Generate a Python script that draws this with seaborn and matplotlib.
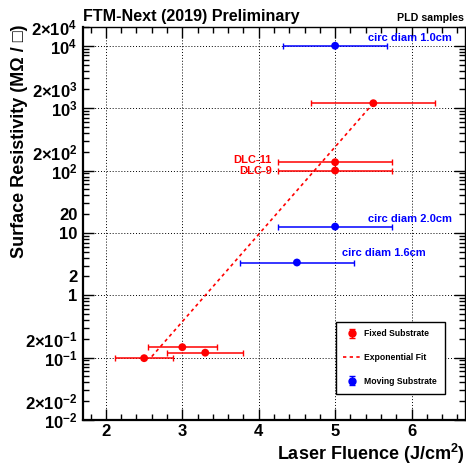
import numpy as np
import pandas as pd
import matplotlib
matplotlib.use("Agg")
import matplotlib.pyplot as plt
import seaborn as sns

# ---- data ----
fixed_x = [2.5, 3.0, 3.3, 5.0, 5.0, 5.5]
fixed_y = [0.098, 0.147, 0.12, 100, 136, 1200]
fixed_xerr = [0.375, 0.45, 0.495, 0.75, 0.75, 0.81]

moving_x = [5.0, 5.0, 4.5]
moving_y = [10000, 12.6, 3.35]
moving_xerr = [0.68, 0.75, 0.75]

fit_x = [2.6, 5.5]
fit_y = [0.104, 1200]

x_major = [2, 3, 4, 5, 6]
y_major = [1e-2, 1e-1, 1, 10, 1e2, 1e3, 1e4]
y_major_labels = [r"$10^{-2}$", r"$10^{-1}$", "1", "10", r"$10^{2}$", r"$10^{3}$", r"$10^{4}$"]
y_two = [2e-2, 2e-1, 2, 20, 2e2, 2e3, 2e4]
y_two_labels = [r"$2{\times}10^{-2}$", r"$2{\times}10^{-1}$", "2", "20",
                r"$2{\times}10^{2}$", r"$2{\times}10^{3}$", r"$2{\times}10^{4}$"]

sns.set_theme(style="ticks")
plt.rcParams["font.family"] = ["Liberation Sans", "DejaVu Sans"]
plt.rcParams["font.weight"] = "bold"
plt.rcParams["axes.labelweight"] = "bold"
plt.rcParams["text.color"] = "black"
plt.rcParams["axes.labelcolor"] = "black"
plt.rcParams["xtick.color"] = "black"
plt.rcParams["ytick.color"] = "black"
plt.rcParams["mathtext.fontset"] = "custom"
plt.rcParams["mathtext.rm"] = "Liberation Sans:bold"
plt.rcParams["mathtext.it"] = "Liberation Sans:bold"
plt.rcParams["mathtext.bf"] = "Liberation Sans:bold"

RED = "#ff0000"
BLUE = "#0000ff"

fig = plt.figure(figsize=(4.66, 4.65), dpi=100)
AX_W, AX_H = 382, 393
ax = fig.add_axes([83 / 466, 45 / 465, AX_W / 466, AX_H / 465])

fixed_df = pd.DataFrame({"x": fixed_x, "y": fixed_y, "xerr": fixed_xerr})
moving_df = pd.DataFrame({"x": moving_x, "y": moving_y, "xerr": moving_xerr})
fit_df = pd.DataFrame({"x": fit_x, "y": fit_y})

ax.set_yscale("log")

sns.lineplot(data=fit_df, x="x", y="y", ax=ax, color=RED, linestyle=(0, (2, 2)),
             linewidth=1.2, zorder=3)

ax.errorbar(fixed_df["x"], fixed_df["y"], xerr=fixed_df["xerr"], fmt="none",
            ecolor=RED, elinewidth=1.1, capsize=2.5, capthick=1.0, zorder=4)
ax.errorbar(moving_df["x"], moving_df["y"], xerr=moving_df["xerr"], fmt="none",
            ecolor=BLUE, elinewidth=1.1, capsize=2.5, capthick=1.0, zorder=4)
sns.scatterplot(data=fixed_df, x="x", y="y", ax=ax, color=RED, s=32,
                edgecolor="none", zorder=5)
sns.scatterplot(data=moving_df, x="x", y="y", ax=ax, color=BLUE, s=32,
                edgecolor="none", zorder=5)

ax.set_xlim(1.7, 6.7)
ax.set_ylim(0.01, 2e4)

ax.set_xticks(x_major)
ax.set_xticklabels([str(v) for v in x_major])
ax.set_xticks(np.arange(1.8, 6.61, 0.2), minor=True)

ax.set_yticks(y_major)
ax.set_yticklabels(y_major_labels)
minor_y = []
minor_lab = []
for d in [1e-2, 1e-1, 1, 10, 1e2, 1e3]:
    for m in range(2, 10):
        minor_y.append(m * d)
        minor_lab.append("")
minor_y.append(2e4)
minor_lab.append("")
for v, l in zip(y_two, y_two_labels):
    for i, mv in enumerate(minor_y):
        if abs(mv - v) / v < 1e-6:
            minor_lab[i] = l
ax.set_yticks(minor_y, minor=True)
ax.set_yticklabels(minor_lab, minor=True)

ax.tick_params(axis="both", which="both", direction="in", top=True, right=True,
               colors="black", labelcolor="black", labelsize=12, width=1, pad=4)
ax.tick_params(axis="x", which="both", pad=3)
ax.tick_params(axis="both", which="major", length=8)
ax.tick_params(axis="both", which="minor", length=4.5)
for lab in ax.get_xticklabels() + ax.get_yticklabels() + ax.get_yticklabels(minor=True):
    lab.set_fontweight("bold")

ax.grid(True, which="major", linestyle=(0, (1, 2)), color="black", linewidth=0.7)
ax.set_axisbelow(True)

for s in ["left", "bottom"]:
    ax.spines[s].set_linewidth(1.6)
for s in ["top", "right"]:
    ax.spines[s].set_linewidth(1.0)
for s in ax.spines.values():
    s.set_color("black")

ax.set_xlabel(r"Laser Fluence (J/cm$^{2}$)", fontsize=13, fontweight="bold", color="black")
ax.xaxis.set_label_coords(1.0, -(442 - 420) / AX_H)
ax.xaxis.label.set_horizontalalignment("right")
ax.xaxis.label.set_verticalalignment("top")

ax.set_ylabel("Surface Resistivity (M\u03a9 / \u25a1)", fontsize=13, fontweight="bold", color="black")
ax.yaxis.set_label_coords(-(83 - 11) / AX_W, 1.0 + 2 / AX_H)
ax.yaxis.label.set_horizontalalignment("right")
ax.yaxis.label.set_verticalalignment("top")

# annotations
ax.text(5.425, 13400, "circ diam 1.0cm", color=BLUE, fontsize=8, fontweight="bold", va="center", ha="left")
ax.text(5.425, 16.5, "circ diam 2.0cm", color=BLUE, fontsize=8, fontweight="bold", va="center", ha="left")
ax.text(5.093, 4.7, "circ diam 1.6cm", color=BLUE, fontsize=8, fontweight="bold", va="center", ha="left")
ax.text(4.17, 148, "DLC-11", color=RED, fontsize=8, fontweight="bold", va="center", ha="right")
ax.text(4.17, 97, "DLC-9", color=RED, fontsize=8, fontweight="bold", va="center", ha="right")

fig.text(83 / 466, 1 - 16.5 / 465, "FTM-Next (2019) Preliminary", fontsize=11.6,
         fontweight="bold", ha="left", va="center", color="black")
fig.text(464 / 466, 1 - 18 / 465, "PLD samples", fontsize=7.7,
         fontweight="bold", ha="right", va="center", color="black")

# legend with vertical-error-bar handles (proxy entries)
h_fixed = ax.errorbar([np.nan], [np.nan], yerr=[1], fmt="o", color=RED, ms=5,
                      elinewidth=1.0, capsize=2, label="Fixed Substrate")
h_fit, = ax.plot([np.nan], [np.nan], color=RED, linestyle=(0, (2, 2)), lw=1.2,
                 label="Exponential Fit")
h_mov = ax.errorbar([np.nan], [np.nan], yerr=[1], fmt="o", color=BLUE, ms=5,
                    elinewidth=1.0, capsize=2, label="Moving Substrate")
leg = ax.legend(handles=[h_fixed, h_fit, h_mov],
                labels=["Fixed Substrate", "Exponential Fit", "Moving Substrate"],
                loc="center", bbox_to_anchor=(0.668, 0.0687, 0.272, 0.18),
                frameon=True, fancybox=False, edgecolor="black",
                framealpha=1, labelspacing=1.7, handlelength=2.0, handletextpad=0.4,
                borderpad=0.9, prop={"weight": "bold", "size": 6.2})
leg.get_frame().set_linewidth(1.0)
for t in leg.get_texts():
    t.set_color("black")

fig.savefig("out.png", dpi=100)
